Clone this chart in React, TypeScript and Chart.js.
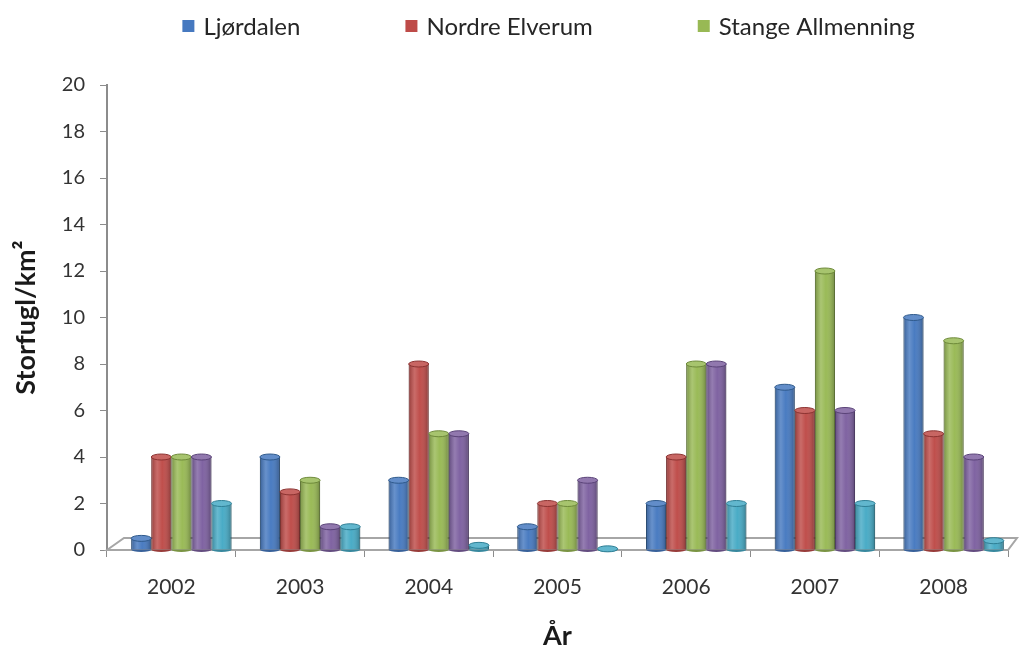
import React, { useEffect, useRef } from 'react';
import { Chart, registerables } from 'chart.js';

Chart.register(...registerables);

// ---- Data ----
const years = ['2002', '2003', '2004', '2005', '2006', '2007', '2008'];
const ljordalen = [0.5, 4, 3, 1, 2, 7, 10];
const nordreElverum = [4, 2.5, 8, 2, 4, 6, 5];
const stangeAllmenning = [4, 3, 5, 2, 8, 12, 9];
const serie4 = [4, 1, 5, 3, 8, 6, 4];
const serie5 = [2, 1, 0.2, 0.05, 2, 2, 0.4];
const seriesNames = ['Ljørdalen', 'Nordre Elverum', 'Stange Allmenning', 'Serie 4', 'Serie 5'];
const seriesValues = [ljordalen, nordreElverum, stangeAllmenning, serie4, serie5];
const seriesColors = ['#4679C0', '#BE4B48', '#98B954', '#7D60A0', '#46AAC5'];
const seriesBorders = ['#2F5A8C', '#8C3331', '#6E8A3A', '#5A4378', '#2F7F95'];
const legendCount = 3;
const yMin = 0;
const yMax = 20;
const yStep = 2;
const yTitle = 'Storfugl/km²';
const xTitle = 'År';

const FONT = 'Lato, "Open Sans", sans-serif';
const DEPTH_SHIFT = 10; // perspective shift of the 3D bars along x

function shade(hex: string, amt: number): string {
  const n = parseInt(hex.slice(1), 16);
  let r = (n >> 16) & 255, g = (n >> 8) & 255, b = n & 255;
  const f = (c: number) => Math.max(0, Math.min(255, Math.round(amt >= 0 ? c + (255 - c) * amt : c * (1 + amt))));
  r = f(r); g = f(g); b = f(b);
  return `rgb(${r},${g},${b})`;
}

const depthPlugin = {
  id: 'depthShift',
  afterDatasetsUpdate(chart: any) {
    chart.data.datasets.forEach((_ds: any, di: number) => {
      const meta = chart.getDatasetMeta(di);
      meta.data.forEach((el: any) => { el.x += DEPTH_SHIFT; });
    });
  },
};

const floorPlugin = {
  id: 'floor3d',
  beforeDatasetsDraw(chart: any) {
    const { ctx, chartArea } = chart;
    const { left, right, bottom } = chartArea;
    const dx = 17, dy = 12;
    ctx.save();
    ctx.beginPath();
    ctx.moveTo(left, bottom);
    ctx.lineTo(left + dx, bottom - dy);
    ctx.lineTo(right + 9, bottom - dy);
    ctx.lineTo(right, bottom);
    ctx.closePath();
    ctx.fillStyle = '#ffffff';
    ctx.fill();
    ctx.strokeStyle = '#a6a6a6';
    ctx.lineWidth = 2;
    ctx.stroke();
    ctx.restore();
  },
};

const cylinderPlugin = {
  id: 'cylinder3d',
  afterDatasetsDraw(chart: any) {
    const { ctx } = chart;
    chart.data.datasets.forEach((_ds: any, di: number) => {
      const meta = chart.getDatasetMeta(di);
      if (meta.hidden) return;
      const base = seriesColors[di];
      meta.data.forEach((el: any) => {
        const { x, y, base: b, width } = el.getProps(['x', 'y', 'base', 'width'], true);
        const left = x - width / 2;
        const h = b - y;
        ctx.save();
        const g = ctx.createLinearGradient(left, 0, left + width, 0);
        g.addColorStop(0, 'rgba(0,0,0,0.22)');
        g.addColorStop(0.3, 'rgba(255,255,255,0.18)');
        g.addColorStop(0.55, 'rgba(255,255,255,0.02)');
        g.addColorStop(1, 'rgba(0,0,0,0.28)');
        ctx.fillStyle = g;
        ctx.fillRect(left, y, width, h);
        ctx.beginPath();
        ctx.ellipse(x, b, width / 2, 2.5, 0, 0, Math.PI);
        ctx.fillStyle = shade(base, -0.2);
        ctx.fill();
        ctx.beginPath();
        ctx.ellipse(x, y, width / 2, 3, 0, 0, Math.PI * 2);
        ctx.fillStyle = shade(base, 0.15);
        ctx.fill();
        ctx.strokeStyle = seriesBorders[di];
        ctx.lineWidth = 1;
        ctx.stroke();
        ctx.restore();
      });
    });
  },
};

const legendPlugin = {
  id: 'topLegend',
  afterDraw(chart: any) {
    const { ctx, chartArea } = chart;
    ctx.save();
    ctx.font = `24px ${FONT}`;
    ctx.textBaseline = 'middle';
    const box = 12, gap = 9, spacing = 105;
    const items = chart.data.datasets.slice(0, legendCount);
    const widths = items.map((d: any) => box + gap + ctx.measureText(d.label).width);
    const total = widths.reduce((a: number, w: number) => a + w, 0) + spacing * (items.length - 1);
    let x = (chartArea.left + chartArea.right) / 2 - 9 - total / 2;
    const yc = 26;
    items.forEach((d: any, i: number) => {
      ctx.fillStyle = seriesColors[i];
      ctx.fillRect(x, yc - box / 2, box, box);
      ctx.fillStyle = '#262626';
      ctx.textAlign = 'left';
      ctx.fillText(d.label, x + box + gap, yc + 1);
      x += widths[i] + spacing;
    });
    ctx.restore();
  },
};

export default function App() {
  const ref = useRef<HTMLCanvasElement | null>(null);

  useEffect(() => {
    if (!ref.current) return;
    const chart = new Chart(ref.current, {
      type: 'bar',
      data: {
        labels: years,
        datasets: seriesValues.map((vals, i) => ({
          label: seriesNames[i],
          data: vals,
          backgroundColor: seriesColors[i],
          borderColor: seriesBorders[i],
          borderWidth: 1,
          categoryPercentage: 0.78,
          barPercentage: 1.0,
        })),
      },
      options: {
        responsive: false,
        animation: false,
        layout: { padding: { top: 85, right: 11, left: 0, bottom: 0 } },
        plugins: {
          legend: { display: false },
          tooltip: { enabled: false },
        },
        scales: {
          x: {
            grid: {
              display: true,
              drawOnChartArea: false,
              drawTicks: true,
              tickLength: 7,
              color: '#8c8c8c',
              offset: true,
            },
            border: { display: true, color: '#8c8c8c', width: 2 },
            ticks: { font: { family: FONT, size: 21 }, color: '#333333', padding: 18 },
            title: {
              display: true,
              text: xTitle,
              font: { family: FONT, size: 27, weight: 'bold' },
              color: '#1a1a1a',
              padding: { top: 0, bottom: 3 },
            },
            afterFit: (s: any) => { s.height = 105; },
          },
          y: {
            min: yMin,
            max: yMax,
            ticks: { stepSize: yStep, font: { family: FONT, size: 20 }, color: '#333333', padding: 15 },
            grid: { drawOnChartArea: false, tickLength: 7, color: '#8c8c8c' },
            border: { display: true, color: '#8c8c8c', width: 2 },
            title: {
              display: true,
              text: yTitle,
              font: { family: FONT, size: 27, weight: 'bold' },
              color: '#1a1a1a',
              padding: { top: 10, bottom: 0 },
            },
            afterFit: (s: any) => { s.width = 107; },
          },
        },
      },
      plugins: [depthPlugin, floorPlugin, cylinderPlugin, legendPlugin],
    });
    return () => chart.destroy();
  }, []);

  return (
    <div style={{ position: 'absolute', left: 0, top: 0, width: 1019, height: 655, background: '#fff' }}>
      <canvas ref={ref} width={1019} height={655} />
    </div>
  );
}
